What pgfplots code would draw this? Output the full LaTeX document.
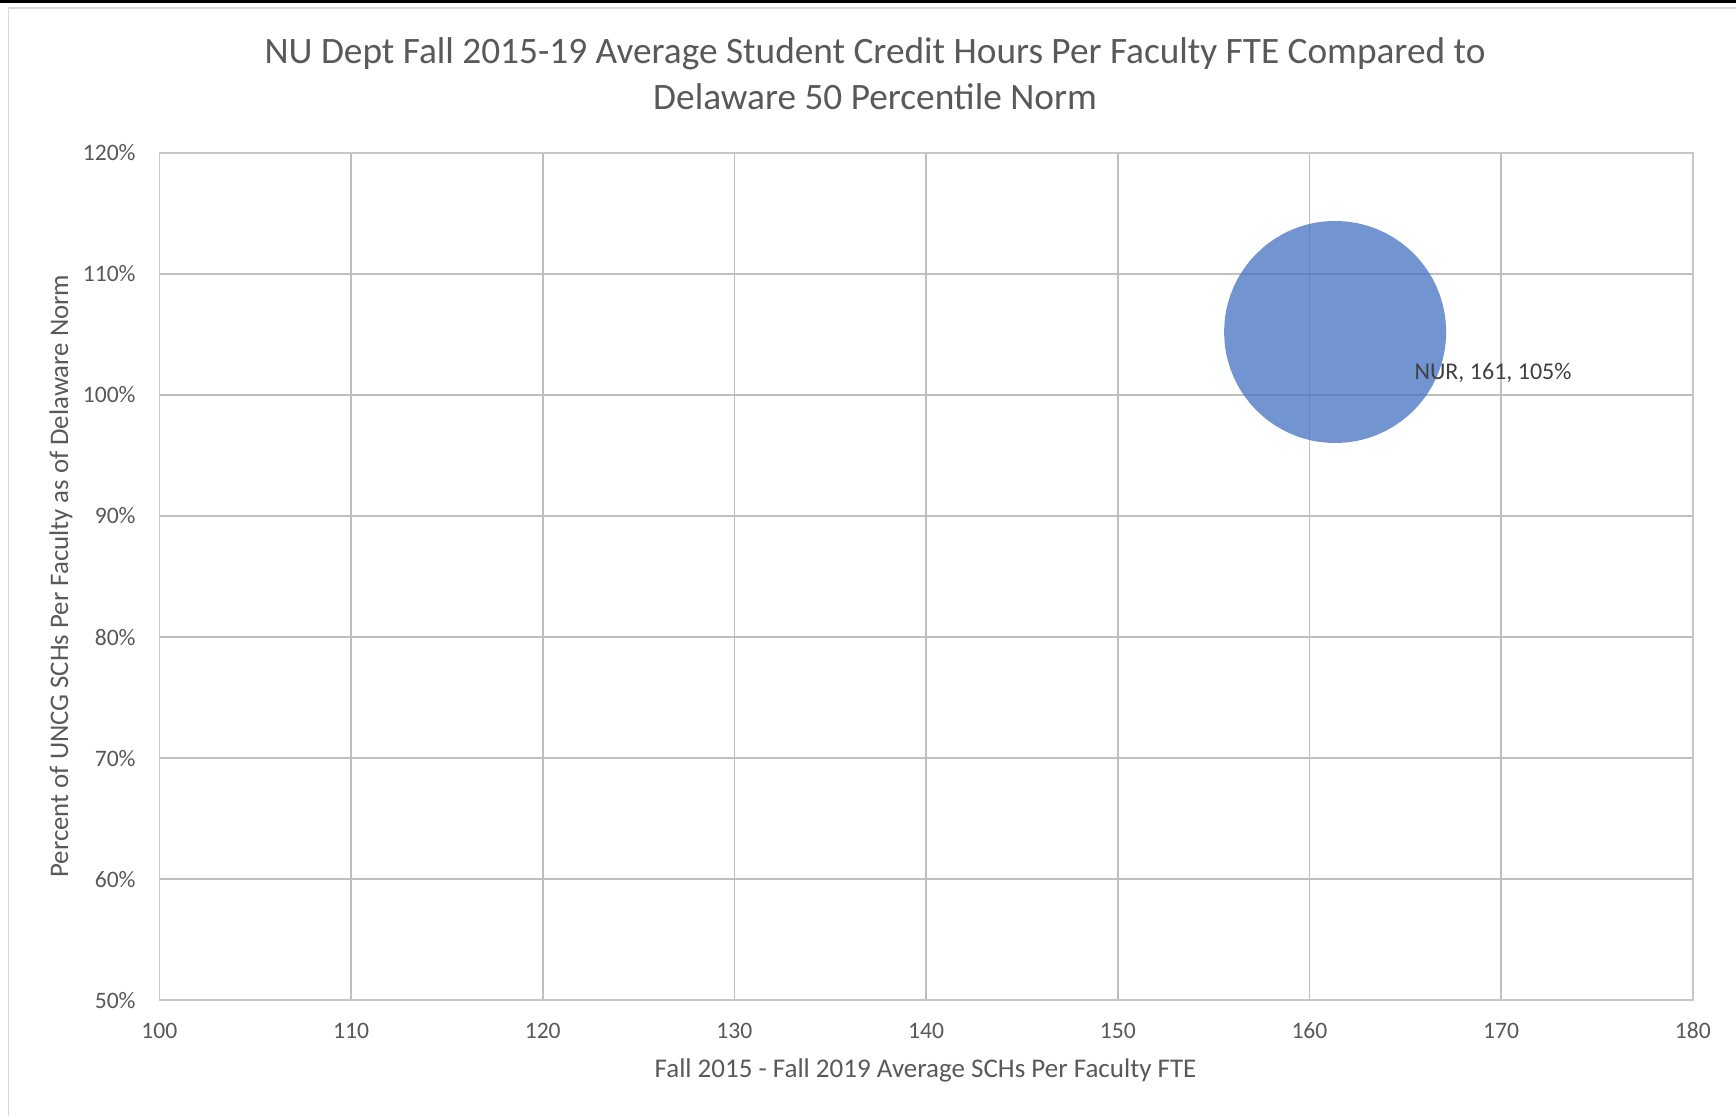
\documentclass[border=0pt]{standalone}
\usepackage{pgfplots}
\pgfplotsset{compat=1.18}
\usepackage{fontspec}
\setmainfont{Carlito}
\definecolor{txt}{HTML}{595959}
\definecolor{lbl}{HTML}{404040}
\definecolor{grid}{HTML}{D9D9D9}
\definecolor{bub}{HTML}{4472C4}
\pgfplotstableread{
x y label
161.34 105.2 {NUR, 161, 105\%}
}\nurdata
\begin{document}
\begin{tikzpicture}[x=1pt,y=1pt]
\useasboundingbox (0,0) rectangle (868,558);
\fill[white] (0,0) rectangle (868,558);
\fill[black] (0,556.4) rectangle (868,558);
\draw[grid,line width=0.8pt] (4.15,0) -- (4.15,553.85) -- (868,553.85);
\begin{axis}[
  at={(79.7pt,57.85pt)}, anchor=south west,
  width=766.7pt, height=423.75pt, scale only axis,
  xmin=100, xmax=180, ymin=50, ymax=120,
  xtick={100,110,...,180}, ytick={50,60,...,120},
  grid=major, major grid style={grid, line width=0.9pt},
  axis line style={grid!80!gray, line width=0.9pt},
  tick style={draw=none},
  /pgf/number format/assume math mode=true,
  xticklabel style={font=\fontsize{11.8}{13}\selectfont, text=txt, inner sep=0pt, anchor=center, yshift=-15.35pt},
  yticklabel style={font=\fontsize{11.8}{13}\selectfont, text=txt, inner sep=0pt, anchor=east, xshift=-11.7pt},
  yticklabel={\pgfmathprintnumber{\tick}\%},
  clip=false,
]
\addplot[only marks, mark=*, mark size=55.5pt, color=bub,
  mark options={draw=bub, fill=bub, fill opacity=0.75, draw opacity=0, line width=0pt},
  nodes near coords, point meta=explicit symbolic,
  every node near coord/.style={anchor=west, inner sep=0pt, xshift=39.7pt, yshift=-20.5pt, font=\fontsize{12}{14}\selectfont, text=lbl, fill opacity=1, text opacity=1, draw=none}]
  table[x=x, y=y, meta=label] {\nurdata};
\end{axis}
\node[anchor=base, text=txt, font=\fontsize{18.65}{22}\selectfont] at (437.5,526.35) {NU Dept Fall 2015-19 Average Student Credit Hours Per Faculty FTE Compared to};
\node[anchor=base, text=txt, font=\fontsize{18.65}{22}\selectfont] at (437.5,503.35) {Delaware 50 Percentile Norm};
\node[text=txt, font=\fontsize{13.5}{16}\selectfont] at (462.75,22.75) {Fall 2015 - Fall 2019 Average SCHs Per Faculty FTE};
\node[rotate=90, text=txt, font=\fontsize{13.4}{16}\selectfont] at (30.5,270) {Percent of UNCG SCHs Per Faculty as of Delaware Norm};
\end{tikzpicture}
\end{document}
